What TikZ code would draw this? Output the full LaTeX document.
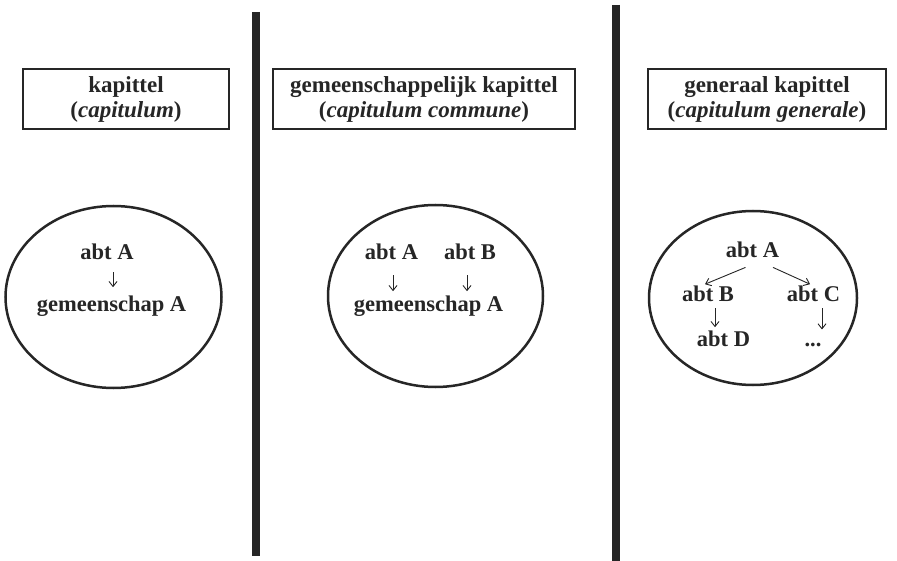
\documentclass[tikz,border=0pt]{standalone}
\usepackage{fontspec}
\setmainfont{Liberation Serif}
\usetikzlibrary{arrows.meta}
\definecolor{ink}{HTML}{262626}
\begin{document}
\begin{tikzpicture}[x=1pt,y=-1pt,
  hdr/.style={draw=ink,text=ink,line width=2pt,minimum width=#1,minimum height=60pt,inner sep=0pt,align=center,font=\fontsize{23}{25}\selectfont\bfseries},
  lbl/.style={text=ink,inner sep=0pt,anchor=base,font=\fontsize{22.5}{25}\selectfont\bfseries},
  oval/.style={draw=ink,line width=2.5pt},
  bar/.style={draw=ink,line width=8pt},
  arr/.style={draw=ink,line width=0.9pt,-{Straight Barb[length=5pt,width=8pt]}}]
\useasboundingbox[fill=white] (0,0) rectangle (897,561);

% separators
\draw[bar] (256,12) -- (256,556);
\draw[bar] (616,5) -- (616,561);

% headers
\node[hdr=206pt] (h1) at (126,99) {kapittel\\(\textit{capitulum})};
\node[hdr=302pt] (h2) at (424,99) {gemeenschappelijk kapittel\\(\textit{capitulum commune})};
\node[hdr=238pt] (h3) at (767,99) {generaal kapittel\\(\textit{capitulum generale})};

% ovals
\draw[oval] (113.5,297) ellipse (108 and 91);
\draw[oval] (435.5,296) ellipse (107.5 and 91);
\draw[oval] (753,298) ellipse (104 and 87);

% panel 1
\node[lbl] (a1) at (107,260) {abt A};
\node[lbl] (g1) at (111.5,312) {gemeenschap A};
\coordinate (t1) at ([xshift=6pt]a1.south);
\draw[arr,shorten <=12pt,shorten >=9pt] (t1) -- (t1 |- g1.north);

% panel 2
\node[lbl] (a2) at (391.5,260) {abt A};
\node[lbl] (b2) at (470,260) {abt B};
\node[lbl] (g2) at (428.5,312) {gemeenschap A};
\coordinate (t2a) at ([xshift=1.5pt]a2.south);
\coordinate (t2b) at ([xshift=-3pt]b2.south);
\draw[arr,shorten <=15pt,shorten >=5pt] (t2a) -- (t2a |- g2.north);
\draw[arr,shorten <=15pt,shorten >=5pt] (t2b) -- (t2b |- g2.north);

% panel 3
\node[lbl] (a3) at (752.5,258) {abt A};
\node[lbl] (b3) at (708,302) {abt B};
\node[lbl] (c3) at (813.5,302) {abt C};
\node[lbl] (d3) at (723.5,347) {abt D};
\node[lbl] (e3) at (813,347) {...};
\draw[arr] ([xshift=-7pt,yshift=-9pt]a3.south) -- ([xshift=-3pt,yshift=2pt]b3.north);
\draw[arr] ([xshift=20.5pt,yshift=-9pt]a3.south) -- ([xshift=-3.5pt,yshift=2pt]c3.north);
\coordinate (t3b) at ([xshift=7pt]b3.south);
\coordinate (t3c) at ([xshift=8.5pt]c3.south);
\draw[arr,shorten <=6pt,shorten >=4pt] (t3b) -- (t3b |- d3.north);
\draw[arr,shorten <=6pt] (t3c) -- ([yshift=14pt]t3c |- e3.north);
\end{tikzpicture}
\end{document}
